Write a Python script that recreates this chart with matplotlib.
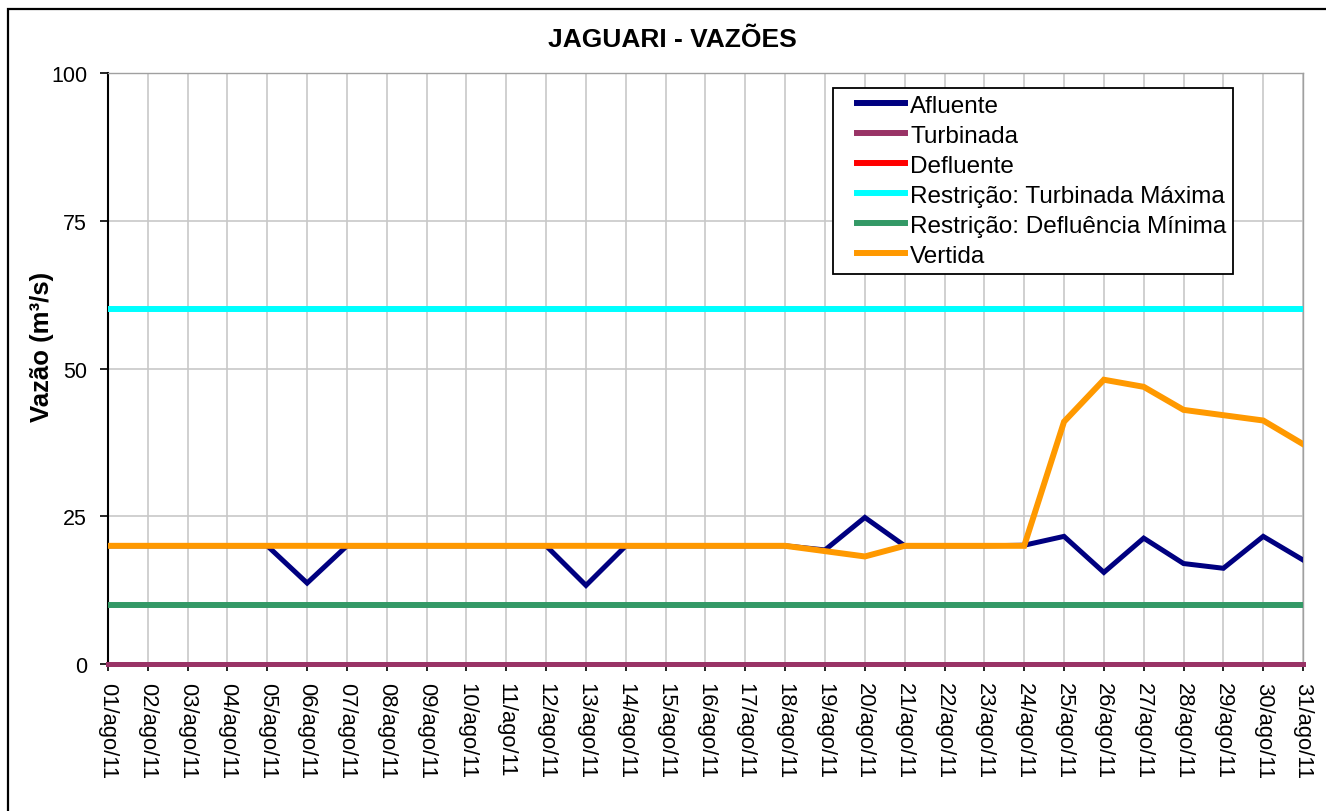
import matplotlib
matplotlib.use("Agg")
import matplotlib.pyplot as plt
from matplotlib.patches import Rectangle
from matplotlib.legend_handler import HandlerLine2D

plt.rcParams['font.family'] = ['Liberation Sans', 'DejaVu Sans']

dates = [f"{d:02d}/ago/11" for d in range(1, 32)]

afluente = [20, 20, 20, 20, 20, 13.7, 20, 20, 20, 20, 20, 20, 13.3, 20, 20, 20, 20, 20,
            19.3, 24.8, 20, 20, 20, 20.1, 21.6, 15.5, 21.3, 17.0, 16.2, 21.6, 17.6]
turbinada = [0] * 31
vertida = [20, 20, 20, 20, 20, 20, 20, 20, 20, 20, 20, 20, 20, 20, 20, 20, 20, 20,
           19.1, 18.2, 20, 20, 20, 20, 41.0, 48.1, 46.9, 43.0, 42.1, 41.2, 37.2]
defluente = list(vertida)
restr_turb_max = [60] * 31
restr_defl_min = [10] * 31

fig = plt.figure(figsize=(13.26, 8.12), dpi=100)
ax = fig.add_axes([0.0814, 0.181, 0.9013, 0.7279])

x = list(range(len(dates)))
ax.plot(x, afluente, color='#000080', lw=3.6, label='Afluente', zorder=4, solid_joinstyle='miter')
ax.plot(x, turbinada, color='#993366', lw=3.6, label='Turbinada', zorder=3, clip_on=False)
ax.plot(x, defluente, color='#FF0000', lw=2.5, label='Defluente', zorder=3)
ax.plot(x, restr_turb_max, color='#00FFFF', lw=4.3, label='Restrição: Turbinada Máxima', zorder=3)
ax.plot(x, restr_defl_min, color='#339966', lw=4.3, label='Restrição: Defluência Mínima', zorder=3)
ax.plot(x, vertida, color='#FF9900', lw=4.3, label='Vertida', zorder=5, solid_joinstyle='miter')

ax.set_xlim(0, 30)
ax.set_ylim(0, 100)
ax.set_yticks([0, 25, 50, 75, 100])
ax.set_xticks(x)
ax.set_xticklabels(dates, rotation=270, fontsize=15.8)
ax.tick_params(axis='y', labelsize=15.5, length=6, width=1.2, direction='out', pad=9)
ax.tick_params(axis='x', length=5, width=1.2, direction='out', pad=8)

ax.grid(True, color='#C8C8C8', lw=1.2)
ax.set_axisbelow(True)
for s in ['top', 'right']:
    ax.spines[s].set_color('#A0A0A0')
    ax.spines[s].set_linewidth(1.0)
for s in ['left', 'bottom']:
    ax.spines[s].set_color('black')
    ax.spines[s].set_linewidth(1.5)

ax.set_ylabel('Vazão (m³/s)', fontsize=18.5, fontweight='bold')
ax.yaxis.set_label_coords(-0.0455, 0.538)
fig.text(672 / 1326, 1 - 40 / 812, 'JAGUARI - VAZÕES', fontsize=19, fontweight='bold',
         ha='center', va='center')

handler = HandlerLine2D(xpad=0.72)
leg = ax.legend(loc='upper left', bbox_to_anchor=((833 - 108) / 1195, 1 - (89 - 74) / 591),
                fontsize=17.5, frameon=True, fancybox=False, edgecolor='black', framealpha=1,
                handlelength=2.7, handletextpad=0.2, labelspacing=0.33,
                borderpad=0.28, borderaxespad=0,
                handler_map={plt.Line2D: handler})
leg.get_frame().set_linewidth(1.3)
leg.set_zorder(10)
for h in leg.get_lines():
    h.set_linewidth(4.3)

border = Rectangle((8 / 1326, -0.05), 1.2, 0.05 + (1 - 10 / 812), transform=fig.transFigure,
                   fill=False, edgecolor='black', lw=1.6, zorder=0)
fig.add_artist(border)

fig.savefig('out.png', dpi=100)
